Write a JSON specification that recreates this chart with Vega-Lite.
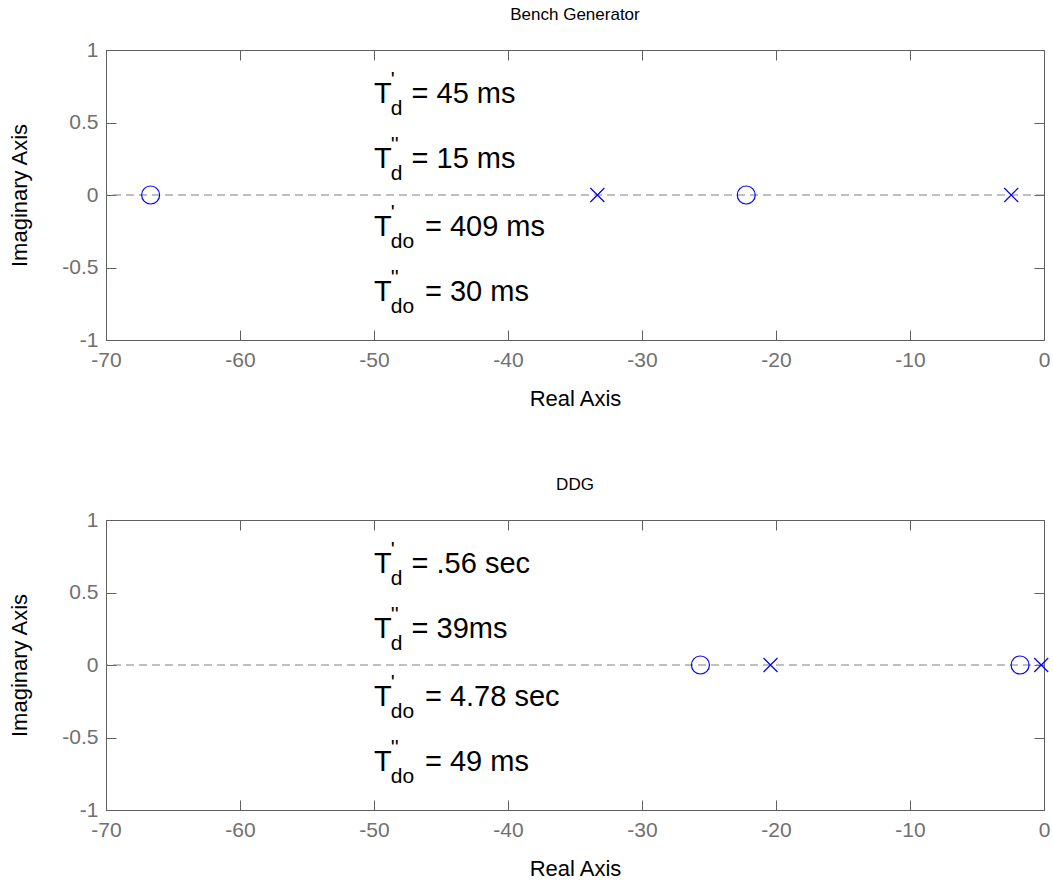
{
  "$schema": "https://vega.github.io/schema/vega-lite/v6.json",
  "background": "white",
  "padding": {"left": 8, "top": 5, "right": 10, "bottom": 5},
  "spacing": 65,
  "config": {
    "font": "Liberation Sans",
    "view": {"stroke": "#606060", "strokeWidth": 1},
    "axis": {
      "grid": false,
      "tickSize": -10,
      "tickColor": "#606060",
      "domainColor": "#606060",
      "labelFontSize": 21,
      "labelColor": "#707070",
      "labelFont": "Liberation Sans",
      "labelFlush": false,
      "labelOverlap": false,
      "titleFontSize": 22,
      "titleFontWeight": "normal",
      "titleColor": "#000000",
      "titleFont": "Liberation Sans"
    },
    "title": {"fontSize": 17, "fontWeight": "normal", "color": "#000000", "offset": 15, "anchor": "middle", "font": "Liberation Sans"}
  },
  "datasets": {
    "baseline": [{"imag": 0}],
    "roots": [
      {"panel": "Bench Generator", "kind": "zero", "real": -66.67, "imag": 0},
      {"panel": "Bench Generator", "kind": "zero", "real": -22.22, "imag": 0},
      {"panel": "Bench Generator", "kind": "pole", "real": -33.33, "imag": 0},
      {"panel": "Bench Generator", "kind": "pole", "real": -2.445, "imag": 0},
      {"panel": "DDG", "kind": "zero", "real": -25.64, "imag": 0},
      {"panel": "DDG", "kind": "zero", "real": -1.786, "imag": 0},
      {"panel": "DDG", "kind": "pole", "real": -20.41, "imag": 0},
      {"panel": "DDG", "kind": "pole", "real": -0.209, "imag": 0}
    ],
    "notes": [
      {"panel": "Bench Generator", "role": "main", "x": -50, "y": 0.7, "label": "T"},
      {"panel": "Bench Generator", "role": "script", "x": -48.75, "y": 0.795, "label": "'"},
      {"panel": "Bench Generator", "role": "script", "x": -48.75, "y": 0.595, "label": "d"},
      {"panel": "Bench Generator", "role": "main", "x": -47.2, "y": 0.7, "label": "= 45 ms"},
      {"panel": "Bench Generator", "role": "main", "x": -50, "y": 0.25, "label": "T"},
      {"panel": "Bench Generator", "role": "script", "x": -48.75, "y": 0.345, "label": "''"},
      {"panel": "Bench Generator", "role": "script", "x": -48.75, "y": 0.145, "label": "d"},
      {"panel": "Bench Generator", "role": "main", "x": -47.2, "y": 0.25, "label": "= 15 ms"},
      {"panel": "Bench Generator", "role": "main", "x": -50, "y": -0.22, "label": "T"},
      {"panel": "Bench Generator", "role": "script", "x": -48.75, "y": -0.125, "label": "'"},
      {"panel": "Bench Generator", "role": "script", "x": -48.75, "y": -0.325, "label": "do"},
      {"panel": "Bench Generator", "role": "main", "x": -46.2, "y": -0.22, "label": "= 409 ms"},
      {"panel": "Bench Generator", "role": "main", "x": -50, "y": -0.67, "label": "T"},
      {"panel": "Bench Generator", "role": "script", "x": -48.75, "y": -0.575, "label": "''"},
      {"panel": "Bench Generator", "role": "script", "x": -48.75, "y": -0.775, "label": "do"},
      {"panel": "Bench Generator", "role": "main", "x": -46.2, "y": -0.67, "label": "= 30 ms"},
      {"panel": "DDG", "role": "main", "x": -50, "y": 0.7, "label": "T"},
      {"panel": "DDG", "role": "script", "x": -48.75, "y": 0.795, "label": "'"},
      {"panel": "DDG", "role": "script", "x": -48.75, "y": 0.595, "label": "d"},
      {"panel": "DDG", "role": "main", "x": -47.2, "y": 0.7, "label": "= .56 sec"},
      {"panel": "DDG", "role": "main", "x": -50, "y": 0.25, "label": "T"},
      {"panel": "DDG", "role": "script", "x": -48.75, "y": 0.345, "label": "''"},
      {"panel": "DDG", "role": "script", "x": -48.75, "y": 0.145, "label": "d"},
      {"panel": "DDG", "role": "main", "x": -47.2, "y": 0.25, "label": "= 39ms"},
      {"panel": "DDG", "role": "main", "x": -50, "y": -0.22, "label": "T"},
      {"panel": "DDG", "role": "script", "x": -48.75, "y": -0.125, "label": "'"},
      {"panel": "DDG", "role": "script", "x": -48.75, "y": -0.325, "label": "do"},
      {"panel": "DDG", "role": "main", "x": -46.2, "y": -0.22, "label": "= 4.78 sec"},
      {"panel": "DDG", "role": "main", "x": -50, "y": -0.67, "label": "T"},
      {"panel": "DDG", "role": "script", "x": -48.75, "y": -0.575, "label": "''"},
      {"panel": "DDG", "role": "script", "x": -48.75, "y": -0.775, "label": "do"},
      {"panel": "DDG", "role": "main", "x": -46.2, "y": -0.67, "label": "= 49 ms"}
    ]
  },
  "vconcat": [
    {
      "title": "Bench Generator",
      "width": 938,
      "height": 290,
      "layer": [
        {
          "data": {"name": "baseline"},
          "mark": {"type": "rule", "color": "#808080", "strokeWidth": 1, "strokeDash": [8, 5]},
          "encoding": {"y": {"field": "imag", "type": "quantitative", "scale": {"domain": [-1, 1], "nice": false, "zero": false}, "axis": null}}
        },
        {
          "data": {"name": "roots"},
          "transform": [{"filter": "datum.panel === 'Bench Generator' && datum.kind === 'zero'"}],
          "mark": {"type": "point", "shape": "circle", "size": 324, "filled": false, "color": "#0000ff", "strokeWidth": 1.2, "opacity": 1},
          "encoding": {
            "x": {"field": "real", "type": "quantitative", "scale": {"domain": [-70, 0], "nice": false, "zero": false},
                  "axis": {"orient": "bottom", "title": "Real Axis", "values": [-70, -60, -50, -40, -30, -20, -10, 0], "labelExpr": "'' + datum.value", "labelPadding": 19, "titlePadding": 18}},
            "y": {"field": "imag", "type": "quantitative", "scale": {"domain": [-1, 1], "nice": false, "zero": false},
                  "axis": {"orient": "left", "title": "Imaginary Axis", "values": [-1, -0.5, 0, 0.5, 1], "labelExpr": "'' + datum.value", "labelPadding": 18, "titlePadding": 30}}
          }
        },
        {
          "data": {"name": "roots"},
          "transform": [{"filter": "datum.panel === 'Bench Generator' && datum.kind === 'pole'"}],
          "mark": {"type": "point", "shape": "M-1,-1L1,1M-1,1L1,-1", "size": 196, "filled": false, "color": "#0000ff", "strokeWidth": 1.2, "opacity": 1},
          "encoding": {
            "x": {"field": "real", "type": "quantitative", "axis": null},
            "y": {"field": "imag", "type": "quantitative", "axis": null}
          }
        },
        {
          "data": {"name": "notes"},
          "transform": [{"filter": "datum.panel === 'Bench Generator' && datum.role === 'main'"}],
          "mark": {"type": "text", "align": "left", "baseline": "middle", "fontSize": 29, "color": "#000000"},
          "encoding": {
            "x": {"field": "x", "type": "quantitative", "axis": null},
            "y": {"field": "y", "type": "quantitative", "axis": null},
            "text": {"field": "label"}
          }
        },
        {
          "data": {"name": "notes"},
          "transform": [{"filter": "datum.panel === 'Bench Generator' && datum.role === 'script'"}],
          "mark": {"type": "text", "align": "left", "baseline": "middle", "fontSize": 21, "color": "#000000"},
          "encoding": {
            "x": {"field": "x", "type": "quantitative", "axis": null},
            "y": {"field": "y", "type": "quantitative", "axis": null},
            "text": {"field": "label"}
          }
        },
        {
          "data": {"name": "roots"},
          "transform": [{"filter": "datum.panel === 'Bench Generator'"}],
          "mark": {"type": "point", "opacity": 0},
          "encoding": {
            "x": {"field": "real", "type": "quantitative", "axis": {"orient": "top", "labels": false, "title": null, "values": [-70, -60, -50, -40, -30, -20, -10, 0]}},
            "y": {"field": "imag", "type": "quantitative", "axis": {"orient": "right", "labels": false, "title": null, "values": [-1, -0.5, 0, 0.5, 1]}}
          }
        }
      ]
    },
    {
      "title": "DDG",
      "width": 938,
      "height": 290,
      "layer": [
        {
          "data": {"name": "baseline"},
          "mark": {"type": "rule", "color": "#808080", "strokeWidth": 1, "strokeDash": [8, 5]},
          "encoding": {"y": {"field": "imag", "type": "quantitative", "scale": {"domain": [-1, 1], "nice": false, "zero": false}, "axis": null}}
        },
        {
          "data": {"name": "roots"},
          "transform": [{"filter": "datum.panel === 'DDG' && datum.kind === 'zero'"}],
          "mark": {"type": "point", "shape": "circle", "size": 324, "filled": false, "color": "#0000ff", "strokeWidth": 1.2, "opacity": 1},
          "encoding": {
            "x": {"field": "real", "type": "quantitative", "scale": {"domain": [-70, 0], "nice": false, "zero": false},
                  "axis": {"orient": "bottom", "title": "Real Axis", "values": [-70, -60, -50, -40, -30, -20, -10, 0], "labelExpr": "'' + datum.value", "labelPadding": 19, "titlePadding": 18}},
            "y": {"field": "imag", "type": "quantitative", "scale": {"domain": [-1, 1], "nice": false, "zero": false},
                  "axis": {"orient": "left", "title": "Imaginary Axis", "values": [-1, -0.5, 0, 0.5, 1], "labelExpr": "'' + datum.value", "labelPadding": 18, "titlePadding": 30}}
          }
        },
        {
          "data": {"name": "roots"},
          "transform": [{"filter": "datum.panel === 'DDG' && datum.kind === 'pole'"}],
          "mark": {"type": "point", "shape": "M-1,-1L1,1M-1,1L1,-1", "size": 196, "filled": false, "color": "#0000ff", "strokeWidth": 1.2, "opacity": 1},
          "encoding": {
            "x": {"field": "real", "type": "quantitative", "axis": null},
            "y": {"field": "imag", "type": "quantitative", "axis": null}
          }
        },
        {
          "data": {"name": "notes"},
          "transform": [{"filter": "datum.panel === 'DDG' && datum.role === 'main'"}],
          "mark": {"type": "text", "align": "left", "baseline": "middle", "fontSize": 29, "color": "#000000"},
          "encoding": {
            "x": {"field": "x", "type": "quantitative", "axis": null},
            "y": {"field": "y", "type": "quantitative", "axis": null},
            "text": {"field": "label"}
          }
        },
        {
          "data": {"name": "notes"},
          "transform": [{"filter": "datum.panel === 'DDG' && datum.role === 'script'"}],
          "mark": {"type": "text", "align": "left", "baseline": "middle", "fontSize": 21, "color": "#000000"},
          "encoding": {
            "x": {"field": "x", "type": "quantitative", "axis": null},
            "y": {"field": "y", "type": "quantitative", "axis": null},
            "text": {"field": "label"}
          }
        },
        {
          "data": {"name": "roots"},
          "transform": [{"filter": "datum.panel === 'DDG'"}],
          "mark": {"type": "point", "opacity": 0},
          "encoding": {
            "x": {"field": "real", "type": "quantitative", "axis": {"orient": "top", "labels": false, "title": null, "values": [-70, -60, -50, -40, -30, -20, -10, 0]}},
            "y": {"field": "imag", "type": "quantitative", "axis": {"orient": "right", "labels": false, "title": null, "values": [-1, -0.5, 0, 0.5, 1]}}
          }
        }
      ]
    }
  ]
}
